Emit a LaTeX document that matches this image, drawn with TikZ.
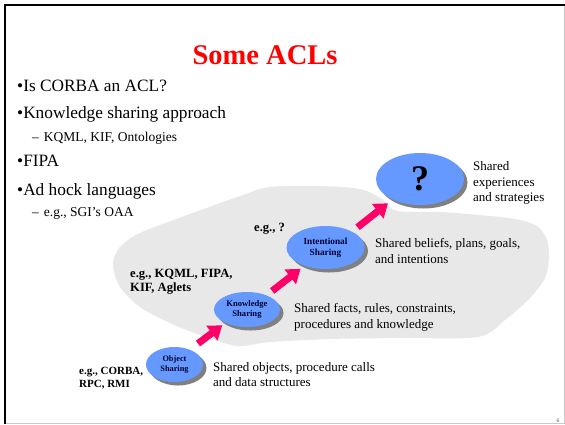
\documentclass[tikz,border=0pt]{standalone}
\usepackage{fontspec}
\setmainfont{Liberation Serif}
\usetikzlibrary{shapes.geometric,shadows,arrows.meta}

\definecolor{titlered}{RGB}{255,0,0}
\definecolor{cloudgray}{RGB}{232,232,232}
\definecolor{ovalblue}{RGB}{102,153,255}
\definecolor{ovalshadow}{RGB}{128,128,128}
\definecolor{ovalink}{RGB}{0,0,51}
\definecolor{arrowpink}{RGB}{255,0,102}
\definecolor{framegray}{RGB}{200,200,200}

\begin{document}
\begin{tikzpicture}[x=1pt,y=-1pt,
  bulletitem/.style={anchor=base west, inner sep=0pt, font=\fontsize{17.3}{21}\selectfont},
  subitem/.style={anchor=base west, inner sep=0pt, font=\fontsize{13.5}{16}\selectfont},
  desc/.style={anchor=base west, inner sep=0pt, align=left, font=\fontsize{13}{15.7}\selectfont},
  example/.style={anchor=base west, inner sep=0pt, align=left, font=\bfseries\fontsize{12.6}{14.7}\selectfont},
  oval/.style={ellipse, fill=ovalblue, inner sep=0pt, text=ovalink, align=center,
    drop shadow={shadow xshift=3.5pt, shadow yshift=-3.5pt, fill=ovalshadow, opacity=1}},
  pinkarrow/.style={draw=arrowpink, line width=7pt, -{Triangle[length=13pt,width=18pt]}}
]
% page area
\fill[white] (0,0) rectangle (565,424);
\useasboundingbox (0,0) rectangle (565,424);

% slide frame
\draw[framegray, line width=0.8pt] (564,5) -- (564,423) -- (5,423);
\draw[line width=2pt] (5,424) -- (5,5) -- (565,5);

% title
\node[anchor=base, inner sep=0pt, text=titlered, font=\bfseries\fontsize{28.5}{34}\selectfont] (title) at (265,64) {Some ACLs};

% bullet list
\node[bulletitem] (b1) at (17,91.5) {•Is CORBA an ACL?};
\node[bulletitem] (b2) at (17,118) {•Knowledge sharing approach};
\node[subitem] (s1) at (32,141.5) {–\hspace{5pt}KQML, KIF, Ontologies};
\node[bulletitem] (b3) at (17,166.5) {•FIPA};
\node[bulletitem] (b4) at (17,195) {•Ad hock languages};
\node[subitem] (s2) at (32,216.5) {–\hspace{5pt}e.g., SGI’s OAA};

% grey backdrop behind the upper levels
\fill[cloudgray] plot[smooth cycle, tension=0.5] coordinates {
  (113,265) (119,248) (140,233) (190,214) (243,195) (270,187) (320,186)
  (360,189) (382,199) (397,211) (440,212) (480,215) (515,219) (537,226)
  (547,240) (549,258) (545,278) (530,298) (505,320) (478,337) (400,338)
  (330,339) (270,342) (237,346) (200,335) (170,323) (140,307) (120,287)};

% sharing levels
\node[oval, minimum width=57pt, minimum height=35pt, font=\bfseries\fontsize{8.3}{9.7}\selectfont] (obj) at (174.5,364.5) {Object\\Sharing};
\node[oval, minimum width=66pt, minimum height=35pt, font=\bfseries\fontsize{8.6}{9.7}\selectfont] (know) at (247,309.5) {Knowledge\\Sharing};
\node[oval, minimum width=78pt, minimum height=43pt, font=\bfseries\fontsize{9.3}{10.7}\selectfont] (intent) at (325.5,247.5) {Intentional\\Sharing};
\node[oval, minimum width=88pt, minimum height=52pt, text=black, font=\bfseries\fontsize{36}{36}\selectfont] (top) at (420,179) {?};

% steps between levels
\draw[pinkarrow, shorten <=10pt, shorten >=4pt] (obj.44) -- (know.212);
\draw[pinkarrow, shorten <=7pt, shorten >=5pt] (know.36) -- (intent.221);
\draw[pinkarrow, shorten <=7pt, shorten >=6pt] (intent.31) -- (top.217);

% examples (anchored on the baseline of their last line)
\node[example, font=\bfseries\fontsize{11}{13.3}\selectfont] (exobj) at (79,387.3) {e.g., CORBA,\\RPC, RMI};
\node[example] (exknow) at (130,291.7) {e.g., KQML, FIPA,\\KIF, Aglets};
\node[example] (exint) at (254,231.7) {e.g., ?};

% descriptions (anchored on the baseline of their last line)
\node[desc] (dobj) at (213,386.7) {Shared objects, procedure calls\\and data structures};
\node[desc] (dknow) at (294,328) {Shared facts, rules, constraints,\\procedures and knowledge};
\node[desc] (dint) at (375,263.3) {Shared beliefs, plans, goals,\\and intentions};
\node[desc] (dtop) at (473,201.7) {Shared\\experiences\\and strategies};

% page number
\node[inner sep=0pt, text=black!70, font=\fontsize{5.5}{6}\selectfont] (pagenum) at (558,420.5) {6};
\end{tikzpicture}
\end{document}
